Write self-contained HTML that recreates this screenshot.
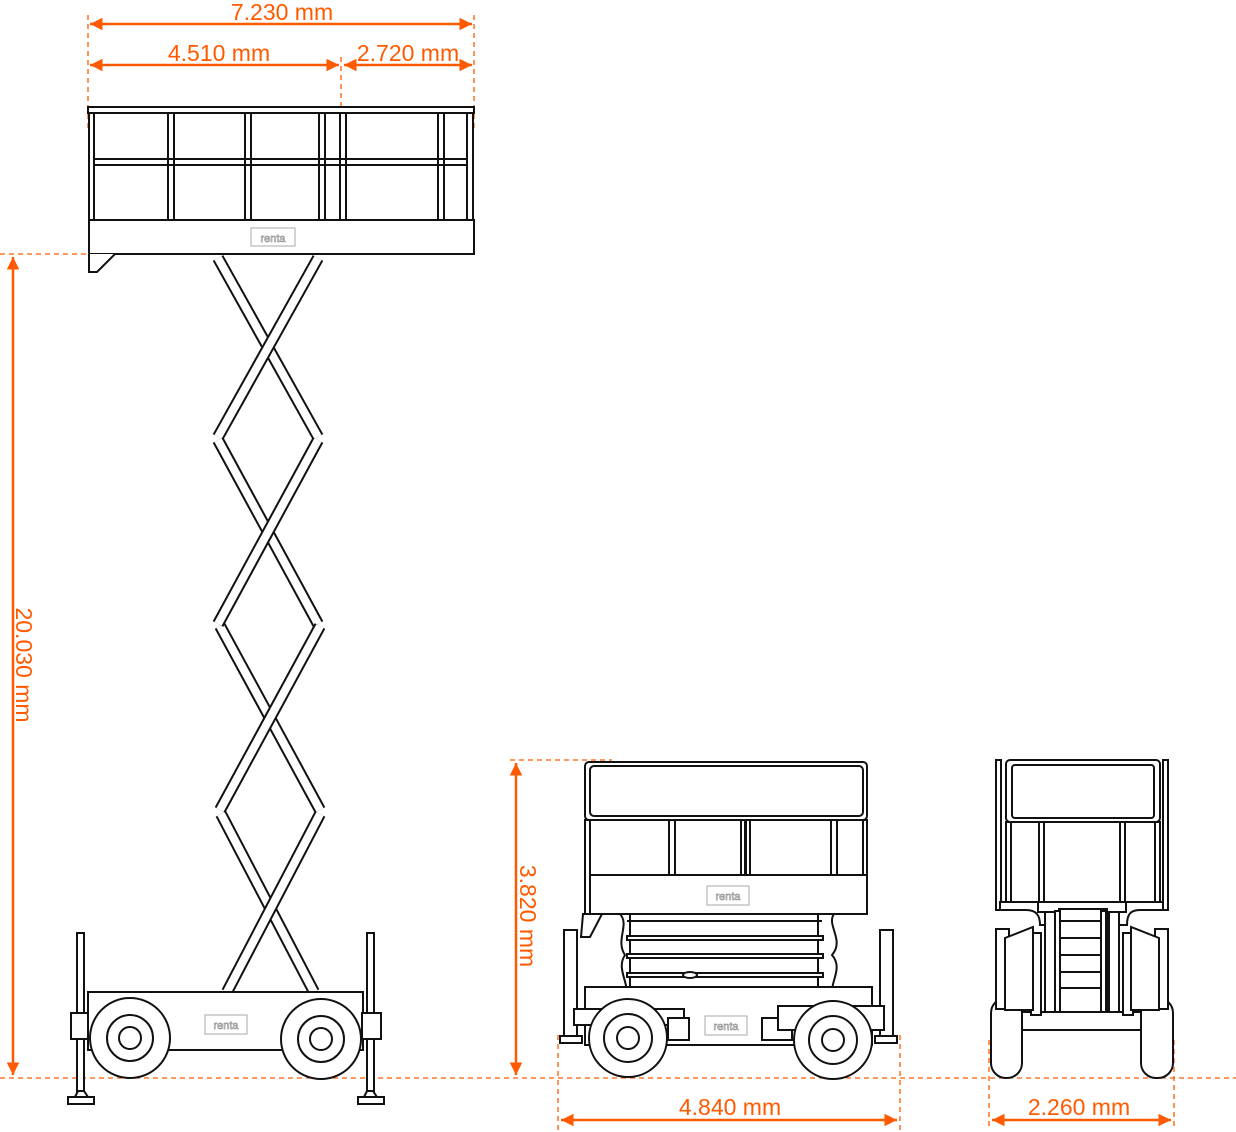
<!DOCTYPE html>
<html><head><meta charset="utf-8"><style>
html,body{margin:0;padding:0;background:#fff}
svg{display:block}
text{font-family:"Liberation Sans",sans-serif}
</style></head><body>
<svg width="1236" height="1132" viewBox="0 0 1236 1132" xmlns="http://www.w3.org/2000/svg">
<defs>
<marker id="a" viewBox="0 0 10 10" refX="10" refY="5" markerWidth="5" markerHeight="5" orient="auto-start-reverse"><path d="M0,0 L10,5 L0,10 z" fill="#ff5a00"/></marker>
</defs>
<g stroke="#ff5a00" stroke-width="1.3" stroke-dasharray="5,4" fill="none">
<line x1="88" y1="15" x2="88" y2="130"/>
<line x1="474" y1="15" x2="474" y2="130"/>
<line x1="341" y1="57" x2="341" y2="128"/>
<line x1="0" y1="254" x2="130" y2="254"/>
<line x1="0" y1="1078" x2="1236" y2="1078"/>
<line x1="510" y1="760" x2="612" y2="760"/>
<line x1="558" y1="1035" x2="558" y2="1130"/>
<line x1="900" y1="1035" x2="900" y2="1130"/>
<line x1="989" y1="1040" x2="989" y2="1130"/>
<line x1="1174" y1="1040" x2="1174" y2="1130"/>
</g>
<g stroke="#ff5a00" stroke-width="2.5" fill="none" marker-start="url(#a)" marker-end="url(#a)">
<line x1="90" y1="24" x2="472" y2="24"/>
<line x1="90" y1="65" x2="339" y2="65"/>
<line x1="344" y1="65" x2="472" y2="65"/>
<line x1="13" y1="257" x2="13" y2="1075"/>
<line x1="516" y1="763" x2="516" y2="1075"/>
<line x1="561" y1="1120" x2="897" y2="1120"/>
<line x1="992" y1="1120" x2="1171" y2="1120"/>
</g>
<g fill="#ff5a00" font-size="23">
<text x="282" y="20" text-anchor="middle">7.230 mm</text>
<text x="219" y="61" text-anchor="middle">4.510 mm</text>
<text x="408" y="61" text-anchor="middle">2.720 mm</text>
<text x="730" y="1115" text-anchor="middle">4.840 mm</text>
<text x="1079" y="1115" text-anchor="middle">2.260 mm</text>
<text transform="translate(16,665) rotate(90)" text-anchor="middle">20.030 mm</text>
<text transform="translate(520,916) rotate(90)" text-anchor="middle">3.820 mm</text>
</g>

<!-- LEFT VIEW -->
<g stroke="#111" stroke-width="2" fill="#fff">
<rect x="88" y="107" width="386" height="6"/>
<rect x="89" y="113" width="5" height="107"/>
<rect x="168" y="113" width="6" height="107"/>
<rect x="245" y="113" width="6" height="107"/>
<rect x="319" y="113" width="6" height="107"/>
<rect x="340" y="113" width="6" height="107"/>
<rect x="438" y="113" width="6" height="107"/>
<rect x="467" y="113" width="6" height="107"/>
<rect x="94" y="159" width="373" height="6" fill="none"/>
<rect x="89" y="220" width="385" height="34"/>
<path d="M89,254 V272 H97 L115,254"/>
</g>
<rect x="251" y="228" width="44" height="18" fill="none" stroke="#aaa" stroke-width="1"/>
<text x="273" y="242" font-size="11" text-anchor="middle" fill="none" stroke="#999" stroke-width="0.7">renta</text>
<g stroke-linecap="butt">
<g stroke="#111" stroke-width="12">
<line x1="218" y1="258" x2="318" y2="437"/><line x1="218" y1="440" x2="318" y2="624"/><line x1="220" y1="626" x2="320" y2="810"/><line x1="221" y1="814" x2="314" y2="992"/>
</g>
<g stroke="#fff" stroke-width="8">
<line x1="218" y1="258" x2="318" y2="437"/><line x1="218" y1="440" x2="318" y2="624"/><line x1="220" y1="626" x2="320" y2="810"/><line x1="221" y1="814" x2="314" y2="992"/>
</g>
<g stroke="#111" stroke-width="12">
<line x1="318" y1="258" x2="218" y2="437"/><line x1="318" y1="440" x2="218" y2="624"/><line x1="320" y1="626" x2="220" y2="810"/><line x1="320" y1="814" x2="227" y2="992"/>
</g>
<g stroke="#fff" stroke-width="8">
<line x1="318" y1="258" x2="218" y2="437"/><line x1="318" y1="440" x2="218" y2="624"/><line x1="320" y1="626" x2="220" y2="810"/><line x1="320" y1="814" x2="227" y2="992"/>
</g>
</g>
<g stroke="#111" stroke-width="2" fill="#fff">
<rect x="88" y="992" width="275" height="58"/>
<rect x="77" y="933" width="7" height="162"/>
<rect x="367" y="933" width="7" height="162"/>
<rect x="71" y="1013" width="17" height="26"/>
<rect x="362" y="1013" width="19" height="26"/>
<path d="M75,1097 L78,1091 H84 L88,1097"/><rect x="68" y="1097" width="26" height="7"/>
<path d="M364,1097 L367,1091 H373 L377,1097"/><rect x="358" y="1097" width="26" height="7"/>
<circle cx="130" cy="1038" r="40"/><circle cx="130" cy="1038" r="23"/><circle cx="130" cy="1038" r="11"/>
<circle cx="321" cy="1039" r="40"/><circle cx="321" cy="1039" r="23"/><circle cx="321" cy="1039" r="11"/>
</g>
<rect x="205" y="1015" width="42" height="19" fill="none" stroke="#aaa" stroke-width="1"/>
<text x="226" y="1029" font-size="11" text-anchor="middle" fill="none" stroke="#999" stroke-width="0.7">renta</text>

<!-- MIDDLE VIEW -->
<g stroke="#111" stroke-width="2" fill="#fff">
<rect x="585" y="762" width="282" height="58" rx="4"/>
<rect x="590" y="766" width="273" height="50" rx="4"/>
<rect x="585" y="820" width="5" height="94"/>
<rect x="863" y="820" width="4" height="55"/>
<rect x="669" y="820" width="6" height="55"/>
<rect x="741" y="820" width="4" height="55"/><rect x="746" y="820" width="4" height="55"/>
<rect x="831" y="820" width="6" height="55"/>
<rect x="590" y="875" width="277" height="39"/>
<path d="M583,914 H602 L590,937 H581 Z"/>
<rect x="620" y="987" width="211" height="13"/>
<path d="M620,914 C630,925 615,940 625,955 C615,970 632,985 625,1000 H834 C826,985 845,970 832,955 C845,940 826,925 834,914 Z"/>
<line x1="630" y1="914" x2="630" y2="1000"/><line x1="818" y1="914" x2="818" y2="1000"/>
<line x1="627" y1="921" x2="822" y2="921"/>
<rect x="627" y="936" width="196" height="4"/>
<rect x="627" y="954" width="196" height="4"/>
<rect x="627" y="973" width="196" height="4"/>
<rect x="627" y="993" width="196" height="4"/>
<ellipse cx="690" cy="975" rx="7" ry="3"/>
<rect x="585" y="987" width="287" height="58"/>
<rect x="564" y="930" width="13" height="106"/>
<rect x="880" y="930" width="13" height="106"/>
<rect x="560" y="1036" width="22" height="7"/>
<rect x="875" y="1036" width="22" height="7"/>
<rect x="574" y="1009" width="110" height="16"/>
<rect x="668" y="1018" width="21" height="22"/>
<rect x="762" y="1018" width="30" height="22"/>
<rect x="778" y="1006" width="106" height="24"/>
<circle cx="628" cy="1038" r="39"/><circle cx="628" cy="1038" r="24"/><circle cx="628" cy="1038" r="11"/>
<circle cx="833" cy="1040" r="39"/><circle cx="833" cy="1040" r="24"/><circle cx="833" cy="1040" r="11"/>
</g>
<rect x="707" y="886" width="42" height="19" fill="none" stroke="#aaa" stroke-width="1"/>
<text x="728" y="900" font-size="11" text-anchor="middle" fill="none" stroke="#999" stroke-width="0.7">renta</text>
<rect x="705" y="1016" width="42" height="19" fill="none" stroke="#aaa" stroke-width="1"/>
<text x="726" y="1030" font-size="11" text-anchor="middle" fill="none" stroke="#999" stroke-width="0.7">renta</text>

<!-- RIGHT VIEW -->
<g stroke="#111" stroke-width="2" fill="#fff">
<rect x="996" y="760" width="5" height="150"/>
<rect x="1163" y="760" width="5" height="150"/>
<rect x="1006" y="760" width="154" height="62" rx="4"/>
<rect x="1012" y="765" width="142" height="53" rx="3"/>
<rect x="1006" y="822" width="5" height="80"/>
<rect x="1155" y="822" width="5" height="80"/>
<rect x="1039" y="822" width="5" height="80"/>
<rect x="1120" y="822" width="5" height="80"/>
<path d="M1000,902 H1163 V910 H1140 C1130,910 1127,915 1127,925 H1040 C1040,915 1036,910 1026,910 H1000 Z"/>
<rect x="1038" y="902" width="88" height="10"/>
<rect x="1045" y="912" width="10" height="100"/>
<rect x="1109" y="912" width="10" height="100"/>
<rect x="1059" y="909" width="48" height="103"/>
<line x1="1059" y1="921" x2="1107" y2="921"/><line x1="1059" y1="938" x2="1107" y2="938"/>
<line x1="1059" y1="955" x2="1107" y2="955"/><line x1="1059" y1="972" x2="1107" y2="972"/>
<line x1="1059" y1="988" x2="1107" y2="988"/>
<rect x="1055" y="911" width="5" height="101"/><rect x="1101" y="911" width="5" height="101"/>
<rect x="1022" y="1012" width="120" height="18"/>
<rect x="991" y="998" width="31" height="80" rx="15"/>
<rect x="1141" y="998" width="32" height="80" rx="15"/>
<rect x="996" y="929" width="13" height="80"/>
<rect x="1155" y="929" width="13" height="80"/>
<rect x="1031" y="933" width="10" height="82"/>
<rect x="1123" y="933" width="10" height="82"/>
<path d="M1005,938 L1033,927 V1010 H1005 Z"/>
<path d="M1159,938 L1131,927 V1010 H1159 Z"/>
</g>
</svg>
</body></html>
